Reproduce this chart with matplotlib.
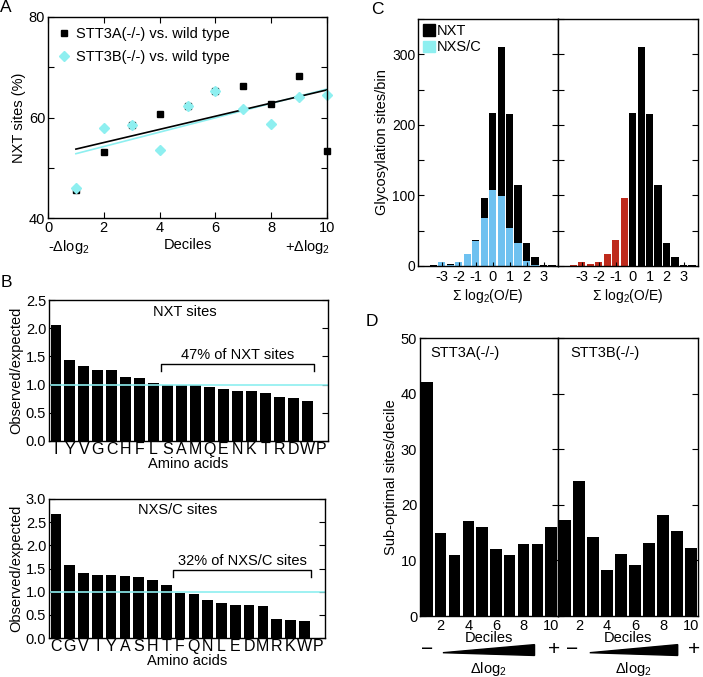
import numpy as np
import matplotlib.pyplot as plt
from matplotlib.patches import Polygon, Patch

plt.rcParams['font.family'] = ['Liberation Sans', 'DejaVu Sans']
plt.rcParams['mathtext.fontset'] = 'custom'
plt.rcParams['mathtext.rm'] = 'Liberation Sans'
plt.rcParams['mathtext.it'] = 'Liberation Sans:italic'
plt.rcParams['font.size'] = 10
plt.rcParams['xtick.direction'] = 'in'
plt.rcParams['ytick.direction'] = 'in'
plt.rcParams['axes.linewidth'] = 1.0
plt.rcParams['axes.unicode_minus'] = False

# ---- data ----
# A: NXT site percentage per decile
deciles = np.arange(1, 11)
stt3a_nxt = [45.6, 53.2, 58.5, 60.6, 62.3, 65.3, 66.2, 62.7, 68.2, 53.4]
stt3b_nxt = [46.0, 58.0, 58.5, 53.5, 62.3, 65.3, 61.6, 58.7, 64.0, 64.4]

# B: observed/expected per amino acid at X position
nxt_aa = list('IYVGCHFLSAMQENKTRDWP')
nxt_ratio = [2.05, 1.43, 1.33, 1.26, 1.26, 1.13, 1.11, 1.02, 0.99, 0.99,
             0.99, 0.95, 0.92, 0.88, 0.88, 0.85, 0.78, 0.77, 0.71, 0.0]
nxs_aa = list('CGVIYASHTFQNLEDMRKWP')
nxs_ratio = [2.68, 1.58, 1.40, 1.35, 1.35, 1.33, 1.32, 1.26, 1.15, 0.97,
             0.95, 0.82, 0.76, 0.72, 0.71, 0.68, 0.42, 0.39, 0.37, 0.0]

# C: histogram of sum log2(O/E)
bin_centers = np.arange(-3.5, 3.51, 0.5)
all_sites = np.array([1, 5, 3, 6, 17, 37, 97, 217, 310, 215, 115, 33, 13, 2, 1])
nxsc_sites = np.array([0, 5, 1, 5, 17, 35, 68, 107, 99, 54, 32, 7, 2, 0, 0])

# D: sub-optimal sites per decile
stt3a_subopt = [42, 15, 11, 17, 16, 12, 11, 13, 13, 16]
stt3b_subopt = [17.2, 24.2, 14.2, 8.2, 11.2, 9.2, 13.2, 18.1, 15.2, 12.2]

cyan = '#8EEFF0'
lightblue = '#6EC1F0'
red = '#BE2A1C'

W, H = 703, 677
fig = plt.figure(figsize=(W / 100, H / 100), dpi=100)


def px_axes(l, t, r, b):
    return fig.add_axes([l / W, 1 - b / H, (r - l) / W, (b - t) / H])


# ---------------- A ----------------
axA = px_axes(48, 17, 327, 218)
pa = np.polyfit(deciles, stt3a_nxt, 1)
pb = np.polyfit(deciles, stt3b_nxt, 1)
axA.plot(deciles, np.polyval(pb, deciles), color=cyan, lw=1.2)
axA.plot(deciles, np.polyval(pa, deciles), color='k', lw=1.2)
axA.plot(deciles, stt3a_nxt, 's', color='k', ms=4.8, clip_on=False,
         label='STT3A(-/-) vs. wild type')
axA.plot(deciles, stt3b_nxt, 'D', color=cyan, ms=5.2, clip_on=False,
         label='STT3B(-/-) vs. wild type')
axA.set_xlim(0, 10)
axA.set_ylim(40, 80)
axA.set_xticks(np.arange(0, 11, 2))
axA.set_yticks(np.arange(40, 81, 10))
axA.set_yticklabels(['40', '', '60', '', '80'])
axA.tick_params(top=True, right=True, length=4, labelsize=10.5, pad=2)
axA.set_ylabel('NXT sites (%)', fontsize=10.5, labelpad=2)
axA.set_xlabel('Deciles', fontsize=10.5, labelpad=2)
axA.text(0.0, -0.145, r'-$\Delta$log$_2$', transform=axA.transAxes, fontsize=10.5,
         ha='left', va='center')
axA.text(1.01, -0.145, r'+$\Delta$log$_2$', transform=axA.transAxes, fontsize=10.5,
         ha='right', va='center')
axA.legend(loc='upper left', frameon=False, fontsize=10.5, handlelength=0.8,
           handletextpad=0.4, borderaxespad=0.3, labelspacing=0.6)


# ---------------- B ----------------
def aa_panel(ax, letters, vals, ymax, title, title_x, title_y,
             br_from, br_to, br_top, br_bot, note, note_y):
    x = np.arange(len(letters))
    ax.bar(x, vals, width=0.78, color='k')
    ax.axhline(1.0, color=cyan, lw=1.2)
    ax.set_xlim(-0.5, len(letters) - 0.5)
    ax.set_ylim(0, ymax)
    ax.set_yticks(np.arange(0, ymax + 0.01, 0.5))
    ax.set_yticklabels(['%.1f' % v for v in np.arange(0, ymax + 0.01, 0.5)])
    ax.set_xticks(x)
    ax.set_xticklabels(letters, fontsize=11.5)
    ax.tick_params(axis='x', length=0, pad=1)
    ax.tick_params(axis='y', right=True, length=4, labelsize=10.5, pad=2)
    ax.set_ylabel('Observed/expected', fontsize=10.5, labelpad=2)
    ax.set_xlabel('Amino acids', fontsize=10.5, labelpad=0)
    ax.text(title_x, title_y, title, fontsize=10.5, ha='center', va='center')
    i0 = letters.index(br_from) - 0.5
    i1 = letters.index(br_to) + 0.5
    ax.plot([i0, i0, i1, i1], [br_bot, br_top, br_top, br_bot], color='k', lw=1)
    ax.text((i0 + i1) / 2, note_y, note, fontsize=10.5, ha='center', va='center')


axB1 = px_axes(49, 300, 328, 441)
aa_panel(axB1, nxt_aa, nxt_ratio, 2.5, 'NXT sites', 9.25, 2.29,
         'S', 'W', 1.37, 1.24, '47% of NXT sites', 1.53)
axB2 = px_axes(49, 499, 325, 638)
aa_panel(axB2, nxs_aa, nxs_ratio, 3.0, 'NXS/C sites', 8.8, 2.77,
         'F', 'W', 1.47, 1.31, '32% of NXS/C sites', 1.67)

# ---------------- C ----------------
axC1 = px_axes(418, 19, 558, 266)
axC2 = px_axes(558, 19, 698, 266)
bw = 0.43
axC1.bar(bin_centers, nxsc_sites, width=bw, color=lightblue)
axC1.bar(bin_centers, all_sites - nxsc_sites, bottom=nxsc_sites, width=bw, color='k')
colors_c2 = [red if c < 0 else 'k' for c in bin_centers]
axC2.bar(bin_centers, all_sites, width=bw, color=colors_c2)
for ax in (axC1, axC2):
    ax.set_xlim(-4.4, 3.85)
    ax.set_ylim(0, 350)
    ax.set_xticks(np.arange(-3, 4))
    ax.set_yticks(np.arange(0, 351, 50))
    ax.set_yticklabels(['0', '', '100', '', '200', '', '300', ''])
    ax.tick_params(axis='y', right=True, length=4, labelsize=10, pad=2)
    ax.tick_params(axis='x', length=3, labelsize=10.5, pad=3)
    ax.set_xlabel(r'$\Sigma$ log$_2$(O/E)', fontsize=10, labelpad=2)
axC2.tick_params(axis='y', labelleft=False)
axC1.set_ylabel('Glycosylation sites/bin', fontsize=10.5, labelpad=2)
axC1.legend(handles=[Patch(color='k', label='NXT'), Patch(color=cyan, label='NXS/C')],
            loc='upper left', frameon=False, fontsize=10.5, handlelength=0.8,
            handleheight=0.8, handletextpad=0.15, borderaxespad=0.15,
            labelspacing=0.15, borderpad=0.2)

# ---------------- D ----------------
axD1 = px_axes(420, 338, 558, 616)
axD2 = px_axes(558, 338, 698, 616)
axD1.bar(deciles, stt3a_subopt, width=0.82, color='k')
axD2.bar(deciles, stt3b_subopt, width=0.82, color='k')
for ax, name, minus_x, w0, w1 in ((axD1, 'STT3A(-/-)', 0.05, 0.166, 0.83),
                                  (axD2, 'STT3B(-/-)', 0.10, 0.227, 0.855)):
    ax.set_xlim(0.5, 10.5)
    ax.set_ylim(0, 50)
    ax.set_xticks(np.arange(2, 11, 2))
    ax.set_yticks(np.arange(0, 51, 10))
    ax.tick_params(axis='y', right=True, length=4, labelsize=10.5, pad=2)
    ax.tick_params(axis='x', length=3, labelsize=10.5, pad=2)
    ax.set_xlabel('Deciles', fontsize=10.5, labelpad=-1)
    ax.text(0.075 if ax is axD1 else 0.085, 0.947, name, transform=ax.transAxes,
            fontsize=10.5, ha='left', va='center')
    ax.text(minus_x, -0.122, '\u2212', transform=ax.transAxes, fontsize=15,
            ha='center', va='center')
    ax.text(0.97, -0.122, '+', transform=ax.transAxes, fontsize=15,
            ha='center', va='center')
    wedge = Polygon([(w0, -0.132), (w1, -0.103), (w1, -0.142)], closed=True,
                    transform=ax.transAxes, color='k', clip_on=False)
    ax.add_patch(wedge)
    ax.text((w0 + w1) / 2, -0.19, r'$\Delta$log$_2$', transform=ax.transAxes,
            fontsize=10.5, ha='center', va='center')
axD2.tick_params(axis='y', labelleft=False)
axD1.set_ylabel('Sub-optimal sites/decile', fontsize=10.5, labelpad=2)

# panel letters
for letter, x, y in (('A', 6, 8), ('B', 6, 283), ('C', 377, 10), ('D', 372, 322)):
    fig.text(x / W, 1 - y / H, letter, fontsize=12.5, ha='center', va='center')

fig.savefig('out.png', dpi=100)
